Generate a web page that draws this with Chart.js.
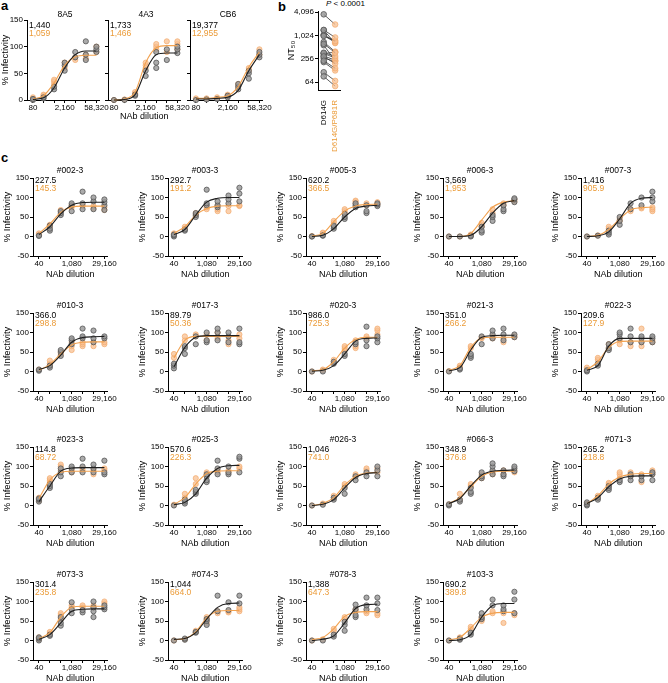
<!DOCTYPE html>
<html>
<head>
<meta charset="utf-8">
<script src="https://cdn.jsdelivr.net/npm/chart.js@4.4.1/dist/chart.umd.min.js"></script>
<style>
  body { margin: 0; background: #fff; width: 668px; height: 683px; position: relative; overflow: hidden;
         font-family: "Liberation Sans", Arial, sans-serif; }
  .letter { position: absolute; font-weight: bold; font-size: 13px; line-height: 14px; }
  .pval { position: absolute; font-size: 8px; line-height: 9px; white-space: nowrap; }
  canvas { position: absolute; }
</style>
</head>
<body>
<div class="letter" style="left:1px;top:-1px">a</div>
<div class="letter" style="left:278px;top:0px">b</div>
<div class="letter" style="left:1px;top:151px">c</div>
<div class="pval" style="left:326px;top:-1px"><i>P</i> &lt; 0.0001</div>

<script>
// ---- data ----
const dilA = [80, 240, 720, 2160, 6480, 19440, 58320];
const dilC = [40, 120, 360, 1080, 3240, 9720, 29160];
const labelA = [80, 2160, 58320];
const labelC = [40, 1080, 29160];
const tickB = [64, 256, 1024, 4096];
const groupsB = ['D614G', 'D614G/P681R'];

// panel a: three monoclonal NAbs
const namesA = ['8A5', '4A3', 'CB6'];
const nt50A_wt = [1440, 1733, 19377];
const nt50A_mut = [1059, 1466, 12955];
const fitA_wt = [
  [1, 4, 23, 60, 85, 92, 92],
  [0, 1, 10, 55, 85, 88, 88],
  [2, 2, 3, 5, 18, 55, 85]
];
const fitA_mut = [
  [2, 8, 32, 65, 81, 84, 84],
  [0, 2, 15, 70, 98, 102, 102],
  [3, 3, 5, 8, 25, 62, 90]
];
const ptsA_wt = [
  [[0, 2], [3, 5], [20, 25], [55, 65, 70], [80, 90], [75, 85, 110], [90, 95, 100]],
  [[0], [0], [8, 10], [45, 55], [60, 70, 90], [75, 95], [88, 95, 100]],
  [[0], [1], [2], [5, 8], [20, 25, 30], [40, 50, 55], [80, 85, 90]]
];
const ptsA_mut = [
  [[2, 5], [8, 10], [30, 35, 38], [60, 70], [75, 80], [78, 85], [90, 100]],
  [[0], [1], [12, 15], [60, 65, 70], [95, 100, 105], [90, 110], [95, 105, 110]],
  [[3], [3], [5], [8, 10], [25, 30], [55, 60], [85, 95]]
];

// panel c: sera
const namesC = ['#002-3', '#003-3', '#005-3', '#006-3', '#007-3', '#010-3', '#017-3', '#020-3', '#021-3', '#022-3',
                '#023-3', '#025-3', '#026-3', '#066-3', '#071-3', '#073-3', '#074-3', '#078-3', '#103-3'];
const nt50C_wt = [227.5, 292.7, 620.2, 3569, 1416, 366.0, 89.79, 986.0, 351.0, 209.6,
                  114.8, 570.6, 1046, 348.9, 265.2, 301.4, 1044, 1388, 690.2];
const nt50C_mut = [145.3, 191.2, 366.5, 1953, 905.9, 298.8, 50.36, 725.3, 266.2, 127.9,
                   68.72, 226.3, 741.0, 376.8, 218.8, 235.8, 664.0, 647.3, 389.8];
const fitC_wt = [
  [5, 25, 58, 80, 87, 88, 88], [5, 18, 55, 88, 98, 100, 100], [0, 3, 20, 50, 72, 78, 80],
  [0, 0, 3, 25, 60, 85, 92], [0, 2, 12, 45, 85, 98, 100], [5, 15, 42, 75, 87, 89, 90],
  [12, 62, 88, 92, 92, 92, 92], [1, 3, 15, 45, 78, 85, 86], [2, 10, 55, 88, 92, 93, 93],
  [3, 15, 65, 85, 85, 85, 85], [10, 50, 88, 96, 97, 97, 97], [2, 8, 30, 70, 95, 102, 103],
  [0, 3, 15, 45, 72, 82, 84], [5, 18, 50, 78, 88, 90, 91], [5, 20, 48, 68, 75, 76, 76],
  [3, 15, 45, 75, 80, 81, 81], [3, 5, 20, 55, 85, 95, 96], [0, 3, 12, 45, 82, 92, 93],
  [0, 2, 15, 60, 90, 95, 95]
];
const fitC_mut = [
  [8, 32, 62, 76, 78, 78, 78], [8, 25, 55, 72, 78, 79, 79], [1, 8, 38, 65, 78, 82, 83],
  [0, 0, 8, 42, 75, 88, 92], [0, 3, 18, 45, 68, 74, 75], [3, 18, 45, 68, 75, 76, 76],
  [35, 80, 90, 90, 90, 90, 90], [2, 5, 25, 60, 82, 88, 88], [3, 15, 62, 86, 88, 88, 88],
  [5, 25, 62, 77, 78, 78, 78], [18, 65, 85, 88, 88, 88, 88], [3, 20, 55, 82, 88, 89, 89],
  [0, 5, 20, 52, 75, 83, 85], [5, 20, 48, 75, 86, 88, 88], [5, 25, 55, 73, 80, 82, 82],
  [5, 20, 60, 85, 88, 88, 88], [2, 5, 22, 58, 75, 77, 77], [2, 8, 30, 62, 72, 74, 74],
  [2, 8, 32, 60, 70, 72, 72]
];
const ptsC_wt = [
  [[2, 2], [15, 20, 28], [55, 60, 65], [65, 80, 85], [70, 85, 115], [70, 90, 100], [68, 80, 88, 95]],
  [[0, 3, 5], [15, 18], [50, 55, 60], [80, 85, 120], [75, 80, 90], [85, 95, 105], [90, 110, 125]],
  [[0, 0], [2, 3], [20, 25, 28], [45, 50, 58], [75, 80, 85], [60, 65, 80], [78, 82, 85]],
  [[0], [0], [0, 2], [10, 15, 25], [40, 50, 55], [65, 70, 80], [88, 95, 98]],
  [[0], [2], [5, 10, 15], [30, 40, 50], [70, 85], [80, 100], [90, 100, 115]],
  [[2, 5], [10, 15], [40, 50, 55], [70, 80, 85], [85, 90, 110], [75, 85, 105], [85, 90]],
  [[8, 15, 20], [45, 60, 65], [70, 90], [75, 80, 100], [80, 100, 110], [75, 90, 100], [70, 75, 110]],
  [[0], [0], [20, 25], [40, 45], [70, 75], [65, 80, 115], [75, 85, 90]],
  [[0], [5, 8], [35, 40, 45], [70, 90], [85, 95, 105], [80, 95, 110], [88, 95]],
  [[0, 3], [15, 20], [55, 60, 70], [85, 95, 100], [75, 90, 110], [75, 85, 90], [75, 85, 90]],
  [[10, 15, 18], [45, 50, 55], [75, 85, 95], [85, 95, 100], [85, 100, 120], [85, 95, 105], [80, 85, 115]],
  [[0], [5, 10, 15], [30, 35, 40], [60, 65, 75, 80], [80, 95, 115], [80, 85, 100], [85, 120, 125]],
  [[0], [2], [15, 20], [30, 45], [65, 75], [75, 85], [75, 90, 100]],
  [[0, 3], [10, 15], [30, 35, 45], [70, 75, 85], [80, 90, 100, 108], [75, 80, 90], [88, 95, 100]],
  [[0, 3, 8], [15, 20], [40, 45, 50], [60, 65], [65, 75, 80], [65, 75], [65, 80, 85]],
  [[0, 5, 8], [12, 15], [38, 45, 60], [70, 80, 98], [72, 78], [60, 75, 85, 100], [80, 85, 90]],
  [[0], [2, 5], [20, 22], [40, 50, 55], [75, 115], [78, 98], [95, 115]],
  [[0], [0], [10, 15], [25, 40, 48], [60, 65, 80, 92], [80, 90, 110], [78, 95, 110]],
  [[0], [2, 5], [15, 20], [55, 60, 70], [90, 105], [75, 80, 90], [70, 105, 125]]
];
const ptsC_mut = [
  [[5, 8], [25, 30], [65, 68], [75, 80], [78, 80], [72, 78], [68, 75]],
  [[5, 8], [20, 25], [55, 60], [70, 75], [65, 70, 80], [65, 78], [78, 80]],
  [[1], [8, 10], [35, 40], [60, 65, 70], [85, 90, 92], [80, 85], [82, 88]],
  [[0], [0], [3, 5], [25, 30, 35], [60, 70], [80, 85], [90, 95]],
  [[0], [3], [20, 25], [40, 45], [65, 70], [72, 75], [65, 70, 75]],
  [[5], [15, 20, 28], [45, 50], [55, 65, 75], [65, 70, 75], [65, 75], [70, 75]],
  [[35, 45], [80, 90], [90, 95], [80, 95], [85, 100], [70, 80], [85, 95]],
  [[0], [3, 5], [25, 30], [55, 60, 65], [60, 65, 80], [85, 90], [95, 105, 110]],
  [[1], [12, 15], [60, 65], [85, 88], [85, 90], [75, 85], [88, 92]],
  [[5, 10], [30, 35], [60, 70], [70, 80], [65, 75], [65, 75, 110], [75, 80]],
  [[12, 20], [60, 65, 70], [90, 100, 105], [85, 90], [90, 95], [80, 90], [90, 95]],
  [[2], [20, 30], [55, 70], [80, 85], [85, 90], [85, 90], [95, 100]],
  [[0], [5], [20, 25], [50, 55], [75, 80], [90, 95], [85, 95]],
  [[3], [15, 30], [50, 55], [70, 80], [80, 85], [80, 90], [85, 90]],
  [[5], [20, 25], [50, 55, 58], [70, 80, 85], [75, 85], [60, 80], [80, 85, 90]],
  [[3, 8], [18, 22], [55, 65, 70], [85, 90], [85, 90], [85, 90], [95, 100]],
  [[0], [3], [22, 25], [45, 55, 60], [70, 75], [72, 75], [75, 80, 85]],
  [[0], [3], [25, 30], [55, 60], [75, 80], [70, 75], [65, 70]],
  [[0], [5, 8], [30, 35], [50, 55, 60], [70, 75], [45, 70], [65, 70]]
];

// ---- style ----
const FONT = '"Liberation Sans", Arial, sans-serif';
const BLACK_LINE = '#1e1e1e';
const ORANGE_LINE = '#f2a250';
const ORANGE_TEXT = '#eb9b38';
const GRAY_FILL = 'rgba(150,150,150,0.8)';
const GRAY_EDGE = '#555';
const ORANGE_FILL = 'rgba(248,192,145,0.75)';
const ORANGE_EDGE = 'rgba(242,172,112,0.9)';

Chart.defaults.font.family = FONT;
Chart.defaults.color = '#000';

function fmt(v) {
  return v >= 1000 ? Math.round(v).toLocaleString('en-US') : v.toPrecision(4);
}

// title + NT50 numbers inside each curve panel
const panelText = {
  id: 'panelText',
  afterDatasetsDraw(chart, args, o) {
    const { ctx, chartArea: a } = chart;
    ctx.save();
    ctx.font = o.size + 'px ' + FONT;
    ctx.textBaseline = 'middle';
    ctx.fillStyle = '#000';
    ctx.textAlign = 'center';
    ctx.fillText(o.title, a.left + o.titleDx, a.top + o.titleDy);
    ctx.textAlign = 'left';
    ctx.fillText(fmt(o.wt), a.left + 2, a.top + o.numDy);
    ctx.fillStyle = ORANGE_TEXT;
    ctx.fillText(fmt(o.mut), a.left + 2, a.top + o.numDy + o.numGap);
    ctx.restore();
  }
};

function addCanvas(left, top, w, h) {
  const c = document.createElement('canvas');
  c.width = w; c.height = h;
  c.style.left = left + 'px'; c.style.top = top + 'px';
  c.style.width = w + 'px'; c.style.height = h + 'px';
  document.body.appendChild(c);
  return c;
}

function curvePanel(p) {
  const canvas = addCanvas(p.left, p.top, p.w, p.h);
  const pts = arr => arr.flatMap((reps, i) => reps.map(v => ({ x: p.dil[i], y: v })));
  const fit = arr => p.dil.map((x, i) => ({ x: x, y: arr[i] }));
  const axisGrid = { display: true, drawOnChartArea: false, drawTicks: true, tickLength: 3, color: '#000', lineWidth: 1 };
  new Chart(canvas, {
    type: 'scatter',
    data: {
      datasets: [
        { type: 'line', data: fit(p.fitWt), borderColor: BLACK_LINE, borderWidth: 1.1, pointRadius: 0,
          cubicInterpolationMode: 'monotone', fill: false, order: 0, clip: false },
        { type: 'line', data: fit(p.fitMut), borderColor: ORANGE_LINE, borderWidth: 1.1, pointRadius: 0,
          cubicInterpolationMode: 'monotone', fill: false, order: 1, clip: false },
        { data: pts(p.ptsWt), backgroundColor: GRAY_FILL, borderColor: GRAY_EDGE, borderWidth: 0.8,
          pointRadius: 2.6, order: 2, clip: false },
        { data: pts(p.ptsMut), backgroundColor: ORANGE_FILL, borderColor: ORANGE_EDGE, borderWidth: 0.8,
          pointRadius: 2.6, order: 3, clip: false }
      ]
    },
    options: {
      responsive: false,
      animation: false,
      devicePixelRatio: 1,
      events: [],
      layout: { padding: { top: p.padTop, right: p.padRight, left: 0, bottom: 0 } },
      plugins: { legend: { display: false }, tooltip: { enabled: false }, panelText: p.text },
      scales: {
        x: {
          type: 'logarithmic', min: p.xMin, max: p.xMax,
          afterBuildTicks: s => { s.ticks = p.dil.map(v => ({ value: v })); },
          afterFit: s => { s.height = p.xh; },
          ticks: {
            autoSkip: false, maxRotation: 0, minRotation: 0, padding: 0, font: { size: 8 },
            callback: v => (p.xLabels.includes(v) ? v.toLocaleString('en-US') : '')
          },
          grid: axisGrid,
          border: { display: true, color: '#000', width: 1 },
          title: { display: p.xTitle, text: 'NAb dilution', font: { size: 9 }, padding: { top: 0, bottom: p.xTitlePad } }
        },
        y: {
          type: 'linear', min: p.yMin, max: 150,
          afterFit: s => { s.width = p.yw; },
          ticks: { stepSize: 50, display: p.yLabels, padding: 1, font: { size: 8 } },
          grid: axisGrid,
          border: { display: true, color: '#000', width: 1 },
          title: { display: p.yTitle, text: '% Infectivity', font: { size: 9.5 }, padding: { top: p.yTitlePad, bottom: 0 } }
        }
      }
    },
    plugins: [panelText]
  });
}

// ---- panel a ----
const aAxisX = [27, 108, 190];
for (let k = 0; k < 3; k++) {
  const yw = k === 0 ? 27 : 6;
  curvePanel({
    left: aAxisX[k] - yw, top: 0, w: yw + 73 + 9, h: 20 + 80 + 22,
    yw: yw, padTop: 20, padRight: 9, xh: 22,
    dil: dilA, xMin: 43.1, xMax: 79450, yMin: 0, xLabels: labelA,
    yLabels: k === 0, yTitle: k === 0, yTitlePad: 0, xTitle: k === 1, xTitlePad: 0,
    fitWt: fitA_wt[k], fitMut: fitA_mut[k], ptsWt: ptsA_wt[k], ptsMut: ptsA_mut[k],
    text: { title: namesA[k], wt: nt50A_wt[k], mut: nt50A_mut[k], titleDx: 38, titleDy: -5,
            numDy: 6, numGap: 8, size: 8.5 }
  });
}

// ---- panel b ----
(function () {
  const canvas = addCanvas(283, 0, 65, 152);
  new Chart(canvas, {
    type: 'line',
    data: {
      labels: groupsB,
      datasets: nt50C_wt.map((w, i) => ({
        data: [w, nt50C_mut[i]],
        borderColor: '#333', borderWidth: 0.8,
        pointRadius: 2.8, pointBorderWidth: 0.8,
        pointBackgroundColor: [GRAY_FILL, ORANGE_FILL],
        pointBorderColor: [GRAY_EDGE, ORANGE_EDGE],
        clip: false
      }))
    },
    options: {
      responsive: false,
      animation: false,
      devicePixelRatio: 1,
      events: [],
      layout: { padding: { top: 11, right: 5, left: 0, bottom: 0 } },
      plugins: { legend: { display: false }, tooltip: { enabled: false } },
      scales: {
        x: {
          type: 'category', offset: true,
          afterFit: s => { s.height = 62; },
          grid: { display: false },
          border: { display: true, color: '#000', width: 1 },
          ticks: { autoSkip: false, minRotation: 90, maxRotation: 90, padding: 2, font: { size: 8 },
                   color: c => (c.index === 0 ? '#000' : ORANGE_TEXT) }
        },
        y: {
          type: 'logarithmic', min: 40, max: 4350,
          afterBuildTicks: s => { s.ticks = tickB.map(v => ({ value: v })); },
          afterFit: s => { s.width = 35; },
          ticks: { padding: 1, font: { size: 8 }, callback: v => v.toLocaleString('en-US') },
          grid: { display: true, drawOnChartArea: false, drawTicks: true, tickLength: 3, color: '#000' },
          border: { display: true, color: '#000', width: 1 },
          title: { display: true, text: 'NT₅₀', font: { size: 9 }, padding: { top: 3.6, bottom: 0 } }
        }
      }
    }
  });
})();

// ---- panel c ----
const cAxisX = [33, 168, 306, 443, 581];
const cTop150 = [178, 313, 447, 582];
namesC.forEach((name, i) => {
  const ax = cAxisX[i % 5], y150 = cTop150[Math.floor(i / 5)];
  curvePanel({
    left: ax - 33, top: y150 - 22, w: 33 + 75 + 9, h: 22 + 78 + 24,
    yw: 33, padTop: 22, padRight: 9, xh: 24,
    dil: dilC, xMin: 22, xMax: 39300, yMin: -50, xLabels: labelC,
    yLabels: true, yTitle: true, yTitlePad: 1.3, xTitle: true, xTitlePad: 0.5,
    fitWt: fitC_wt[i], fitMut: fitC_mut[i], ptsWt: ptsC_wt[i], ptsMut: ptsC_mut[i],
    text: { title: name, wt: nt50C_wt[i], mut: nt50C_mut[i], titleDx: 37, titleDy: -7,
            numDy: 3, numGap: 7.5, size: 8.5 }
  });
});
</script>
</body>
</html>
